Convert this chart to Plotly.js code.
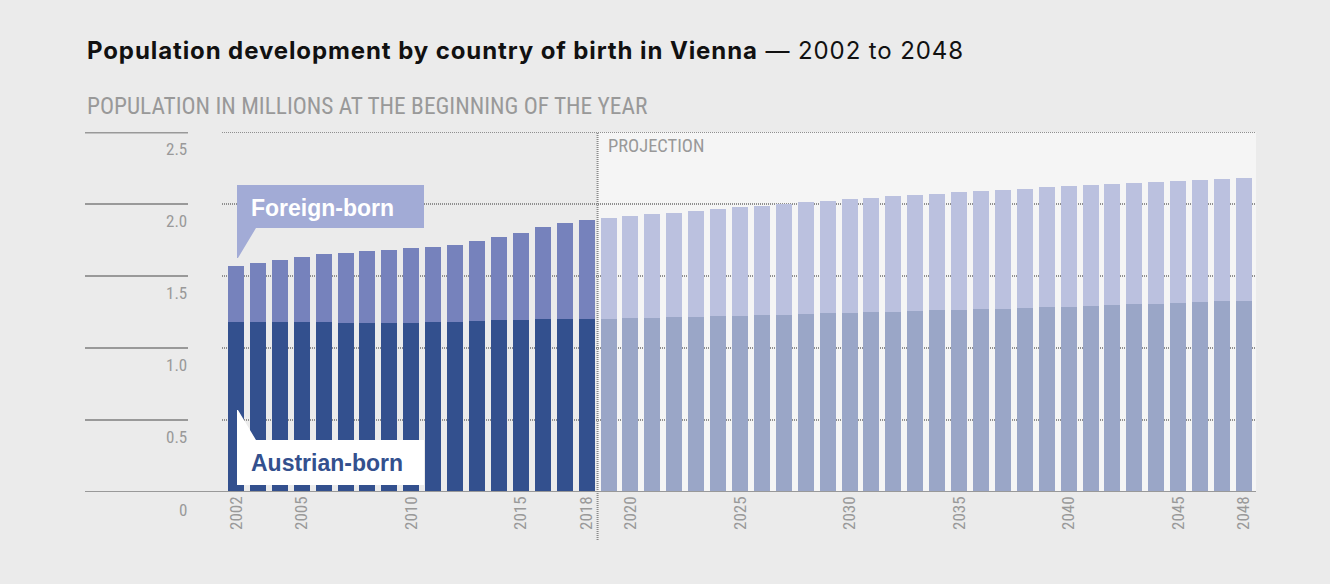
<!DOCTYPE html>
<html>
<head>
<meta charset="utf-8">
<script src="https://cdn.plot.ly/plotly-3.0.1.min.js"></script>
<style>
html,body{margin:0;padding:0;background:#ebebeb;}
#chart{width:1330px;height:584px;}
#chart .gtitle{letter-spacing:0.9px;}
</style>
</head>
<body>
<div id="chart"></div>
<script>
// ---- Data (population in millions at the beginning of the year) ----
const histYears = [2002,2003,2004,2005,2006,2007,2008,2009,2010,2011,2012,2013,2014,2015,2016,2017,2018];
const histTotal = [1.569,1.590,1.611,1.632,1.653,1.660,1.674,1.681,1.694,1.701,1.715,1.743,1.771,1.799,1.840,1.868,1.889];
const histAustrian = [1.181,1.181,1.181,1.181,1.181,1.174,1.174,1.174,1.176,1.181,1.181,1.188,1.194,1.194,1.201,1.201,1.201];

const projYears = [2019,2020,2021,2022,2023,2024,2025,2026,2027,2028,2029,2030,2031,2032,2033,2034,2035,2036,2037,2038,2039,2040,2041,2042,2043,2044,2045,2046,2047,2048];
const projTotal = [1.903,1.917,1.931,1.938,1.951,1.965,1.979,1.986,2.000,2.014,2.021,2.035,2.042,2.056,2.063,2.069,2.083,2.090,2.097,2.104,2.118,2.125,2.132,2.139,2.146,2.153,2.160,2.167,2.174,2.181];
const projAustrian = [1.201,1.208,1.208,1.215,1.215,1.222,1.222,1.229,1.229,1.236,1.243,1.243,1.250,1.250,1.257,1.264,1.264,1.271,1.271,1.278,1.285,1.285,1.292,1.299,1.306,1.306,1.313,1.319,1.326,1.326];

const xTickVals = [2002,2005,2010,2015,2018,2020,2025,2030,2035,2040,2045,2048];
const xTickText = ['2002','2005','2010','2015','2018','2020','2025','2030','2035','2040','2045','2048'];
const yTickVals = [0.5,1.0,1.5,2.0,2.5];
const yTickText = ['0.5','1.0','1.5','2.0','2.5'];

const histForeign = histTotal.map((t,i)=>+(t-histAustrian[i]).toFixed(3));
const projForeign = projTotal.map((t,i)=>+(t-projAustrian[i]).toFixed(3));

// ---- Styling ----
const W=1330, H=584;
const mL=222, mR=74, mT=132, mB=92;
const plotW = W-mL-mR, plotH = H-mT-mB;
const COND = 'Roboto Condensed, Arial Narrow, sans-serif';
const SANS = 'Liberation Sans, Arial, sans-serif';
const GREY = '#999999';
const DOT = '1px,1px';
const px = x => (x-mL)/plotW;            // pixel -> paper x
const py = y => (H-mB-y)/plotH;          // pixel -> paper y
const P = (x,y) => px(x).toFixed(5)+','+py(y).toFixed(5);

const barW = 0.73;
const traces = [
  {type:'bar', x:histYears, y:histAustrian, marker:{color:'#33508e'}, width:barW, name:'Austrian-born'},
  {type:'bar', x:histYears, y:histForeign, marker:{color:'#7682bc'}, width:barW, name:'Foreign-born'},
  {type:'bar', x:projYears, y:projAustrian, marker:{color:'#9aa6c7'}, width:barW, name:'Austrian-born (projection)'},
  {type:'bar', x:projYears, y:projForeign, marker:{color:'#bbc1df'}, width:barW, name:'Foreign-born (projection)'}
];

const shapes = [];
// projection background
shapes.push({type:'rect', xref:'x', yref:'paper', x0:2018.5, x1:2048.55, y0:0, y1:1, fillcolor:'#f5f5f5', line:{width:0}, layer:'below'});
// top dotted line
shapes.push({type:'line', xref:'paper', yref:'y', x0:0, x1:1, y0:2.5, y1:2.5, line:{color:'#8f8f8f', width:2, dash:DOT}, layer:'below'});
// left solid tick lines
yTickVals.forEach(v=>{
  shapes.push({type:'line', xref:'paper', yref:'y', x0:px(85), x1:px(188), y0:v, y1:v, line:{color:GREY, width:v===2.5?3:2}});
});
// baseline
shapes.push({type:'line', xref:'paper', yref:'y', x0:px(85), x1:1, y0:0, y1:0, line:{color:GREY, width:2}, layer:'above'});
// projection divider
shapes.push({type:'line', xref:'x', yref:'paper', x0:2018.5, x1:2018.5, y0:py(540), y1:1, line:{color:'#8a8a8a', width:2, dash:DOT}, layer:'above'});
// Foreign-born callout
shapes.push({type:'path', xref:'paper', yref:'paper', layer:'above', fillcolor:'#a2abd6', line:{width:0},
  path:'M'+P(237,185)+' L'+P(424,185)+' L'+P(424,228)+' L'+P(256,228)+' L'+P(238,258)+' L'+P(237,258)+' Z'});
// Austrian-born callout
shapes.push({type:'path', xref:'paper', yref:'paper', layer:'above', fillcolor:'#ffffff', line:{width:0},
  path:'M'+P(237,410)+' L'+P(238,410)+' L'+P(256,440)+' L'+P(424,440)+' L'+P(424,485)+' L'+P(237,485)+' Z'});

const annotations = [];
// y labels
yTickVals.forEach((v,i)=>{
  annotations.push({xref:'paper', yref:'y', x:px(189), y:v, xanchor:'right', yanchor:'top', yshift:-5,
    text:yTickText[i], showarrow:false, font:{family:COND, size:17, color:GREY}});
});
annotations.push({xref:'paper', yref:'y', x:px(189), y:0, xanchor:'right', yanchor:'top', yshift:-6,
  text:'0', showarrow:false, font:{family:COND, size:17, color:GREY}});
// subtitle
annotations.push({xref:'paper', yref:'paper', x:px(85), y:py(106), xanchor:'left', yanchor:'middle',
  text:'POPULATION IN MILLIONS AT THE BEGINNING OF THE YEAR', showarrow:false, font:{family:COND, size:23.4, color:GREY}});
// projection label
annotations.push({xref:'paper', yref:'paper', x:px(606), y:py(146), xanchor:'left', yanchor:'middle',
  text:'PROJECTION', showarrow:false, font:{family:COND, size:18.5, color:GREY}});
// callout texts
annotations.push({xref:'paper', yref:'paper', x:px(249), y:py(208), xanchor:'left', yanchor:'middle',
  text:'<b>Foreign-born</b>', showarrow:false, font:{family:SANS, size:23, color:'#ffffff'}});
annotations.push({xref:'paper', yref:'paper', x:px(249), y:py(463), xanchor:'left', yanchor:'middle',
  text:'<b>Austrian-born</b>', showarrow:false, font:{family:SANS, size:23, color:'#33508e'}});

const layout = {
  width:W, height:H,
  paper_bgcolor:'#ebebeb', plot_bgcolor:'rgba(0,0,0,0)',
  margin:{l:mL, r:mR, t:mT, b:mB, pad:0},
  showlegend:false,
  barmode:'stack',
  title:{text:'<b>Population development by country of birth in Vienna</b> — 2002 to 2048',
    x:87/W, xanchor:'left', xref:'container', y:1-51/H, yanchor:'middle', yref:'container',
    font:{family:'Inter, Roboto, sans-serif', size:24, color:'#111111'}},
  xaxis:{type:'linear', range:[2001.36, 2048.55], tickvals:xTickVals, ticktext:xTickText, tickangle:-90,
    showgrid:false, zeroline:false, showline:false, ticks:'', ticklen:0,
    tickfont:{family:COND, size:17, color:GREY}, fixedrange:true},
  yaxis:{range:[0,2.5], tickvals:[0.5,1.0,1.5,2.0], showticklabels:false, showgrid:true, griddash:DOT,
    gridcolor:'#8f8f8f', gridwidth:2, zeroline:false, showline:false, ticks:'', fixedrange:true},
  shapes:shapes,
  annotations:annotations
};

Plotly.newPlot('chart', traces, layout, {staticPlot:true, displayModeBar:false});
</script>
</body>
</html>
